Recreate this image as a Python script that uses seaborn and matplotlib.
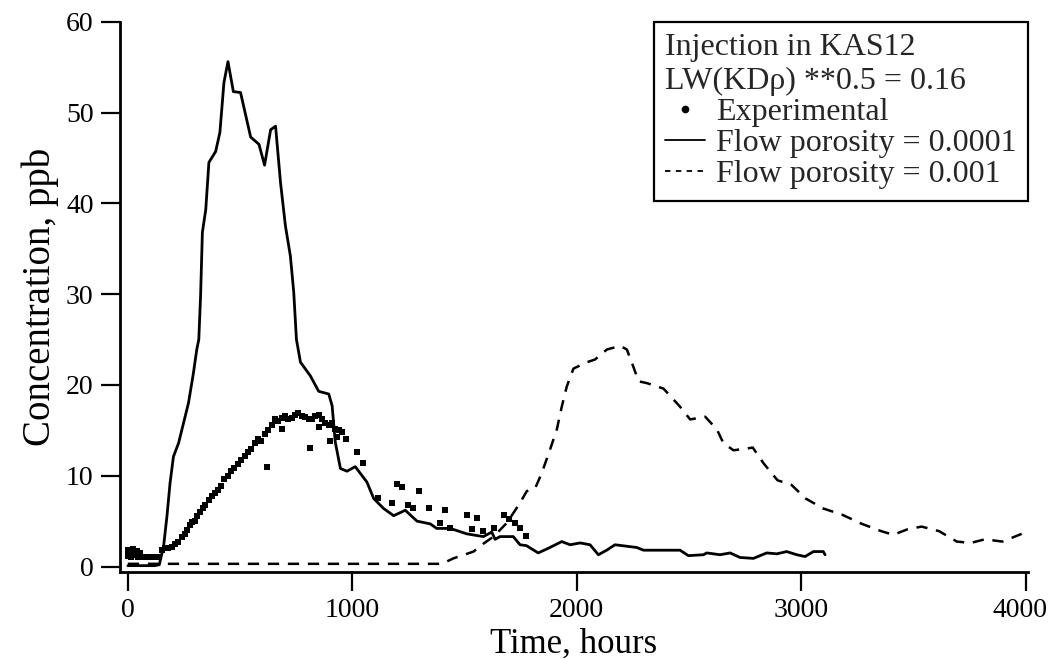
import matplotlib
matplotlib.use("Agg")
import matplotlib.pyplot as plt
import matplotlib.transforms as mtransforms
from matplotlib.lines import Line2D
import seaborn as sns
import pandas as pd

# ---- data ----
t_por4 = [0, 60, 120, 140, 159, 174, 188, 203, 226, 248, 270, 292, 307, 316, 324, 332,
          347, 361, 391, 410, 428, 446, 470, 502, 547, 584, 609, 636, 658, 680, 702, 724,
          739, 751, 769, 813, 850, 895, 910, 924, 947, 976, 1013, 1065, 1095, 1139, 1184,
          1236, 1288, 1347, 1376, 1436, 1510, 1584, 1621, 1636, 1658, 1717, 1747, 1776,
          1828, 1872, 1933, 1970, 2015, 2059, 2096, 2133, 2170, 2267, 2297, 2460, 2497,
          2564, 2579, 2638, 2683, 2727, 2787, 2846, 2891, 2935, 2980, 3017, 3054, 3098, 3106]
c_por4 = [0.1, 0.1, 0.1, 0.2, 2.2, 5.5, 9.2, 12.1, 13.6, 15.8, 18.0, 21.3, 23.9, 25.0, 29.8, 36.8,
          39.3, 44.5, 45.7, 47.8, 53.3, 55.6, 52.3, 52.2, 47.3, 46.5, 44.2, 48.1, 48.5, 42.3, 37.5, 34.2,
          30.2, 25.0, 22.5, 21.0, 19.3, 19.0, 17.7, 13.7, 10.8, 10.5, 11.0, 9.3, 7.5, 6.4, 5.6,
          6.2, 5.0, 4.7, 4.2, 4.2, 3.6, 3.3, 3.8, 3.0, 3.3, 3.3, 2.4, 2.3,
          1.5, 2.0, 2.75, 2.4, 2.6, 2.4, 1.3, 1.8, 2.4, 2.1, 1.8, 1.8, 1.2,
          1.3, 1.5, 1.3, 1.5, 1.0, 0.9, 1.5, 1.4, 1.65, 1.3, 1.1, 1.65, 1.65, 1.3]

t_por3 = [0, 200, 400, 600, 800, 1000, 1200, 1399, 1450, 1540, 1577, 1629, 1688, 1747, 1777,
          1814, 1844, 1881, 1911, 1933, 1955, 1985, 2045, 2081, 2134, 2193, 2223, 2252, 2275,
          2312, 2386, 2460, 2505, 2572, 2624, 2653, 2698, 2784, 2831, 2894, 2956, 3019, 3097,
          3183, 3270, 3356, 3410, 3473, 3536, 3614, 3693, 3755, 3818, 3896, 3982]
c_por3 = [0.3, 0.3, 0.3, 0.3, 0.3, 0.3, 0.3, 0.3, 0.9, 1.65, 2.4, 3.3, 4.8, 7.0, 8.3,
          8.6, 10.3, 12.9, 15.1, 17.6, 19.8, 21.8, 22.5, 22.8, 23.9, 24.3, 23.9, 22.0, 20.4,
          20.2, 19.6, 17.6, 16.2, 16.5, 15.1, 13.6, 12.8, 13.1, 11.4, 9.5, 9.0, 7.5, 6.4,
          5.7, 4.7, 3.9, 3.5, 4.1, 4.4, 3.9, 2.75, 2.6, 3.0, 2.75, 3.6]

t_exp = [0, 0, 10, 15, 25, 30, 40, 45, 55, 60, 80, 100, 120, 140,
         150, 165, 180, 195, 210, 225, 240, 255, 265, 275, 285, 300, 310, 320, 335, 345,
         360, 375, 390, 400, 415, 430, 445, 460, 475, 490, 505, 520, 535, 550, 565, 580,
         595, 610, 625, 640, 655, 670, 685, 700, 715, 730, 745, 760, 775, 790, 805, 820,
         835, 850, 865, 880, 895, 910, 925, 940, 955, 970,
         619, 812, 901, 686, 850, 930,
         1020, 1047, 1116, 1176, 1198, 1223, 1250, 1272, 1298, 1343, 1391, 1415, 1436,
         1510, 1532, 1554, 1581, 1629, 1676, 1700, 1725, 1747, 1774]
c_exp = [1.8, 1.2, 1.6, 1.0, 1.9, 1.3, 1.7, 1.1, 1.5, 1.0, 1.0, 1.0, 1.0, 1.1,
         1.8, 2.0, 2.0, 2.2, 2.5, 2.7, 3.2, 3.6, 4.0, 4.6, 4.9, 5.0, 5.6, 6.0, 6.5, 6.8,
         7.3, 7.8, 8.1, 8.4, 8.9, 9.6, 10.0, 10.5, 10.9, 11.3, 11.7, 12.2, 12.6, 13.0, 13.6, 14.0,
         13.8, 14.6, 15.0, 15.6, 16.2, 16.0, 16.4, 16.6, 16.2, 16.4, 16.7, 16.9, 16.6, 16.5, 16.3, 16.2,
         16.6, 16.7, 16.2, 15.8, 15.6, 15.8, 15.2, 15.0, 14.8, 14.1,
         11.0, 13.1, 13.8, 15.2, 15.4, 14.3,
         12.6, 11.4, 7.6, 7.0, 9.1, 8.8, 6.8, 6.4, 8.3, 6.5, 4.8, 6.2, 4.2,
         5.7, 4.1, 5.4, 3.9, 4.2, 5.7, 5.2, 4.8, 4.2, 3.4]

x_ticks = [0, 1000, 2000, 3000, 4000]
y_ticks = [0, 10, 20, 30, 40, 50, 60]
legend_title = "Injection in KAS12\nLW(KDρ) **0.5 = 0.16"
labels = ["Experimental", "Flow porosity = 0.0001", "Flow porosity = 0.001"]

df4 = pd.DataFrame({"t": t_por4, "c": c_por4})
df3 = pd.DataFrame({"t": t_por3, "c": c_por3})
dfe = pd.DataFrame({"t": t_exp, "c": c_exp})

sns.set_theme(style="ticks")
plt.rcParams["font.family"] = ["Liberation Serif", "DejaVu Serif"]

fig = plt.figure(figsize=(10.5, 6.6), dpi=100)
ax = fig.add_axes([120 / 1050, 1 - 572 / 660, 908 / 1050, (572 - 21.7) / 660])

sns.scatterplot(data=dfe, x="t", y="c", ax=ax, marker="s", s=20, color="black",
                linewidth=0, legend=False)
sns.lineplot(data=df4, x="t", y="c", ax=ax, color="black", linewidth=2.0,
             estimator=None, sort=False, legend=False)
sns.lineplot(data=df3, x="t", y="c", ax=ax, color="black", linewidth=1.8,
             estimator=None, sort=False, legend=False, linestyle=(0, (4.5, 3.5)))

ax.set_xlim(-35, 4010)
ax.set_ylim(-0.6, 60)
ax.set_xticks(x_ticks)
ax.set_yticks(y_ticks)
ax.tick_params(axis="both", direction="out", length=14, width=1.6, labelsize=20,
               color="black", labelcolor="black", pad=5)
for side in ["top", "right"]:
    ax.spines[side].set_visible(False)
for side in ["left", "bottom"]:
    ax.spines[side].set_linewidth(2.0)
    ax.spines[side].set_color("black")

# keep the last x tick label inside the canvas
last = ax.get_xticklabels()[-1]
last.set_transform(last.get_transform() +
                   mtransforms.ScaledTranslation(-6 / 100, 0, fig.dpi_scale_trans))

ax.set_xlabel("Time, hours", fontsize=25, color="black", labelpad=3)
ax.set_ylabel("Concentration, ppb", fontsize=28, color="black", labelpad=5)

handles = [
    Line2D([], [], marker="o", markersize=4.5, linestyle="none", color="black"),
    Line2D([], [], color="black", linewidth=1.3),
    Line2D([], [], color="black", linewidth=1.3, linestyle=(0, (3, 3))),
]
leg = ax.legend(handles, labels, title=legend_title, alignment="left",
                loc="upper right", bbox_to_anchor=(1.0, 1.0), borderaxespad=0,
                fontsize=23, title_fontsize=23, frameon=True, fancybox=False,
                framealpha=1, edgecolor="black", handlelength=1.25,
                handletextpad=0.35, labelspacing=0.05, borderpad=0.35)
leg.get_frame().set_linewidth(1.6)
leg.get_title().set_linespacing(1.25)

fig.savefig("out.png", dpi=100)
